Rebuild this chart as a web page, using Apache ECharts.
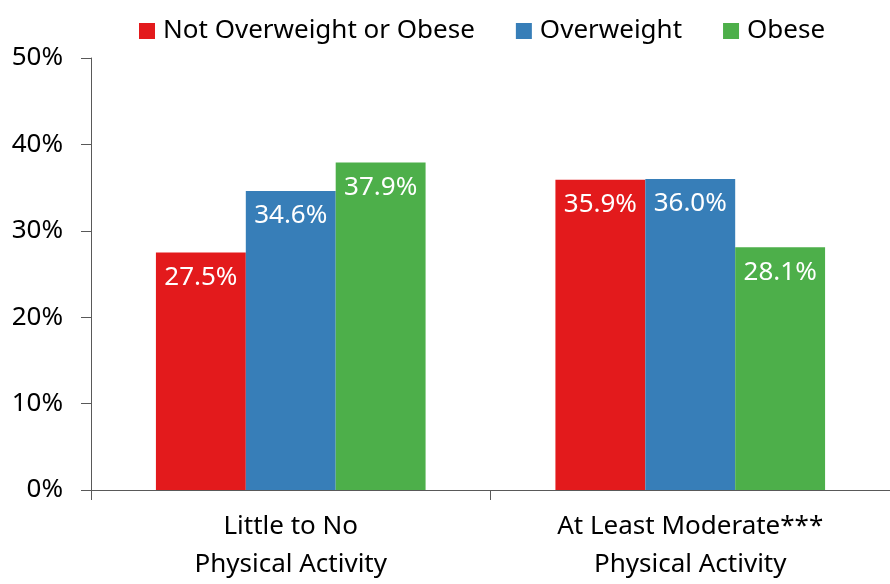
<!DOCTYPE html>
<html><head><meta charset="utf-8">
<script src="https://cdn.jsdelivr.net/npm/echarts@6/dist/echarts.min.js"></script>
<style>html,body{margin:0;padding:0;background:#fff}#c{width:890px;height:584px}</style>
</head><body><div id="c"></div>
<script>
var categories = ['Little to No\nPhysical Activity', 'At Least Moderate***\nPhysical Activity'];
var seriesNames = ['Not Overweight or Obese', 'Overweight', 'Obese'];
var notOverweight = [27.5, 35.9];
var overweight = [34.6, 36.0];
var obese = [37.9, 28.1];
var yTicks = [0, 10, 20, 30, 40, 50];
var colors = ['#e31a1c', '#377eb8', '#4daf4a'];
var FONT = 'Noto Sans';
var FS = 26;

var chart = echarts.init(document.getElementById('c'), null, {renderer: 'canvas'});
function mk(name, data, color) {
  return {
    name: name, type: 'bar', data: data, barGap: '0%', barCategoryGap: '32.5%',
    itemStyle: {color: color},
    label: {show: true, position: 'insideTop', distance: 12, color: '#fff', fontSize: FS, fontFamily: FONT,
      formatter: function (p) { return p.value.toFixed(1) + '%'; }}
  };
}
chart.setOption({
  animation: false,
  textStyle: {fontFamily: FONT},
  legend: {
    top: 13, left: 134, itemWidth: 16, itemHeight: 16, itemGap: 41,
    icon: 'rect',
    textStyle: {fontSize: FS, color: '#000', fontFamily: FONT, padding: [0, 0, 0, 3]},
    data: seriesNames
  },
  grid: {left: 91, right: 0, top: 58, bottom: 91, containLabel: false},
  xAxis: {
    type: 'category', data: categories,
    axisLine: {lineStyle: {color: '#595959', width: 1}},
    axisTick: {show: true, length: 10, lineStyle: {color: '#595959'}},
    axisLabel: {fontSize: FS, color: '#000', fontFamily: FONT, margin: 18, lineHeight: 38}
  },
  yAxis: {
    type: 'value', min: yTicks[0], max: yTicks[yTicks.length - 1], interval: 10,
    axisLine: {show: true, lineStyle: {color: '#595959', width: 1}},
    axisTick: {show: true, length: 10, lineStyle: {color: '#595959'}},
    splitLine: {show: false},
    axisLabel: {fontSize: FS, color: '#000', fontFamily: FONT, margin: 28, formatter: '{value}%'}
  },
  series: [mk(seriesNames[0], notOverweight, colors[0]), mk(seriesNames[1], overweight, colors[1]), mk(seriesNames[2], obese, colors[2])]
});
</script></body></html>
